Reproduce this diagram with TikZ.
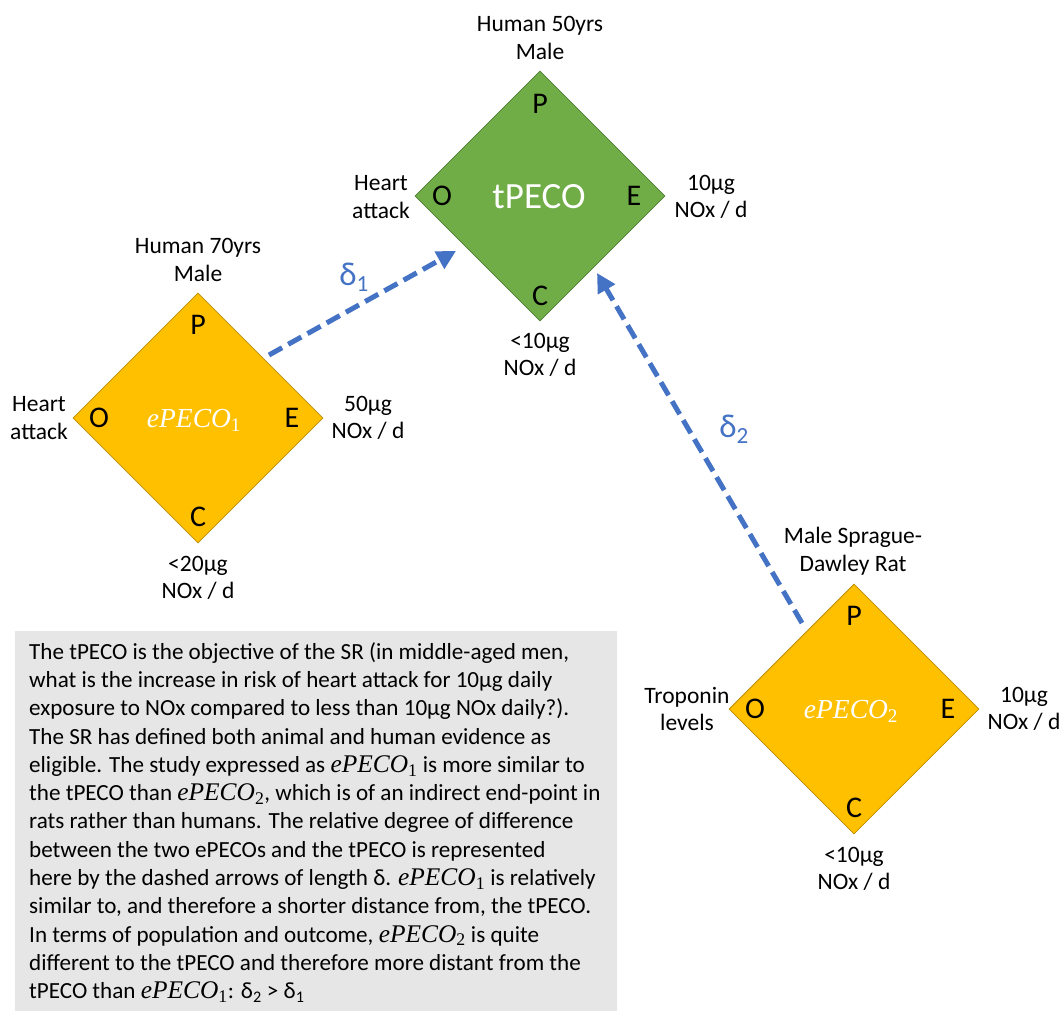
\documentclass[tikz,border=0pt]{standalone}
\usepackage{amsmath}
\usepackage{fontspec}
\setmainfont{Carlito}
\newfontfamily\pecoserif[Scale=1.1]{Liberation Serif}
\usetikzlibrary{shapes.geometric,arrows.meta}
\definecolor{pecogreen}{HTML}{70AD47}
\definecolor{pecogreenline}{HTML}{507E32}
\definecolor{pecogold}{HTML}{FFC000}
\definecolor{pecogoldline}{HTML}{BC8C00}
\definecolor{notegray}{HTML}{E7E6E6}
\definecolor{deltablue}{HTML}{4472C4}
% evidence PECO symbol, e.g. \epeco{1}
\newcommand{\epeco}[1]{$\text{\pecoserif\itshape ePECO}_{\text{\pecoserif #1}}$}
% distance symbol, e.g. \dlt{2}
\newcommand{\dlt}[1]{$\text{δ}_{\text{#1}}$}

\begin{document}
\begin{tikzpicture}[x=1pt,y=-1pt,
  peco/.style={diamond, shape aspect=1, minimum width=250pt, minimum height=250pt, inner sep=0pt, line width=0.8pt},
  tpecobox/.style={peco, fill=pecogreen, draw=pecogreenline},
  epecobox/.style={peco, fill=pecogold, draw=pecogoldline},
  corner/.style={inner sep=0pt, font=\fontsize{30}{30}\selectfont},
  lbl/.style={align=center, inner sep=0pt, font=\fontsize{23.5}{27.5}\selectfont},
  centre/.style={text=white, inner sep=0pt, anchor=base},
  dist/.style={deltablue, line width=5pt, dash pattern=on 15pt off 7pt,
    -{Triangle[length=19pt,width=19pt]}},
  distlbl/.style={text=deltablue, inner sep=0pt, font=\fontsize{33}{33}\selectfont},
]
\useasboundingbox (0,0) rectangle (1062,1010);

% --- target PECO (green) ---
\node[tpecobox] (tp) at (540,196) {};
\node[centre, font=\fontsize{37}{37}\selectfont] (tplabel) at (539,208) {tPECO};
\node[corner] (tpP) at (540,104) {P};
\node[corner] (tpO) at (442,196) {O};
\node[corner] (tpE) at (634,196) {E};
\node[corner] (tpC) at (540,296) {C};
\node[lbl] (tpPop) at (540,38) {Human 50yrs\\Male};
\node[lbl] (tpOut) at (381,197) {Heart\\attack};
\node[lbl] (tpExp) at (711,197) {10µg\\NOx / d};
\node[lbl] (tpCmp) at (540,355) {<10µg\\NOx / d};

% --- evidence PECO 1 (gold) ---
\node[epecobox] (ea) at (198,418) {};
\node[centre, font=\fontsize{25}{25}\selectfont] (ealabel) at (194,427) {\epeco{1}};
\node[corner] (eaP) at (198,325) {P};
\node[corner] (eaO) at (99,418) {O};
\node[corner] (eaE) at (292,418) {E};
\node[corner] (eaC) at (198,517) {C};
\node[lbl] (eaPop) at (198,260) {Human 70yrs\\Male};
\node[lbl] (eaOut) at (39,418) {Heart\\attack};
\node[lbl] (eaExp) at (368,418) {50µg\\NOx / d};
\node[lbl] (eaCmp) at (198,578) {<20µg\\NOx / d};

% --- evidence PECO 2 (gold) ---
\node[epecobox] (eb) at (854,709) {};
\node[centre, font=\fontsize{25}{25}\selectfont] (eblabel) at (851,718) {\epeco{2}};
\node[corner] (ebP) at (854,616) {P};
\node[corner] (ebO) at (755,709) {O};
\node[corner] (ebE) at (948,709) {E};
\node[corner] (ebC) at (854,808) {C};
\node[lbl] (ebPop) at (853,551) {Male Sprague-\\Dawley Rat};
\node[lbl] (ebOut) at (687,709) {Troponin\\levels};
\node[lbl] (ebExp) at (1024,709) {10µg\\NOx / d};
\node[lbl] (ebCmp) at (854,869) {<10µg\\NOx / d};

% --- distance arrows ---
\coordinate (d1from) at (269,355);
\coordinate (d1to) at (456,251);
\coordinate (d2from) at (802,623);
\coordinate (d2to) at (597,273);
\draw[dist] (d1from) -- (d1to);
\draw[dist] (d2from) -- (d2to);
\node[distlbl] (d1lbl) at (354,277) {\dlt{1}};
\node[distlbl] (d2lbl) at (734,429) {\dlt{2}};

% --- explanatory note ---
\node[fill=notegray, anchor=north west, minimum width=602pt, minimum height=380pt, inner sep=0pt] (notebox) at (15,631) {};
\node[anchor=north west, align=left, inner sep=0pt, font=\fontsize{23.1}{28.3}\selectfont] (notetext) at (29,642) {%
The tPECO is the objective of the SR (in middle-aged men,\\
what is the increase in risk of heart attack for 10µg daily\\
exposure to NOx compared to less than 10µg NOx daily?).\\
The SR has defined both animal and human evidence as\\
eligible. The study expressed as \epeco{1} is more similar to\\
the tPECO than \epeco{2}, which is of an indirect end-point in\\
rats rather than humans. The relative degree of difference\\
between the two ePECOs and the tPECO is represented\\
here by the dashed arrows of length δ. \epeco{1} is relatively\\
similar to, and therefore a shorter distance from, the tPECO.\\
In terms of population and outcome, \epeco{2} is quite\\
different to the tPECO and therefore more distant from the\\
tPECO than \epeco{1}: \dlt{2} > \dlt{1}};
\end{tikzpicture}
\end{document}
